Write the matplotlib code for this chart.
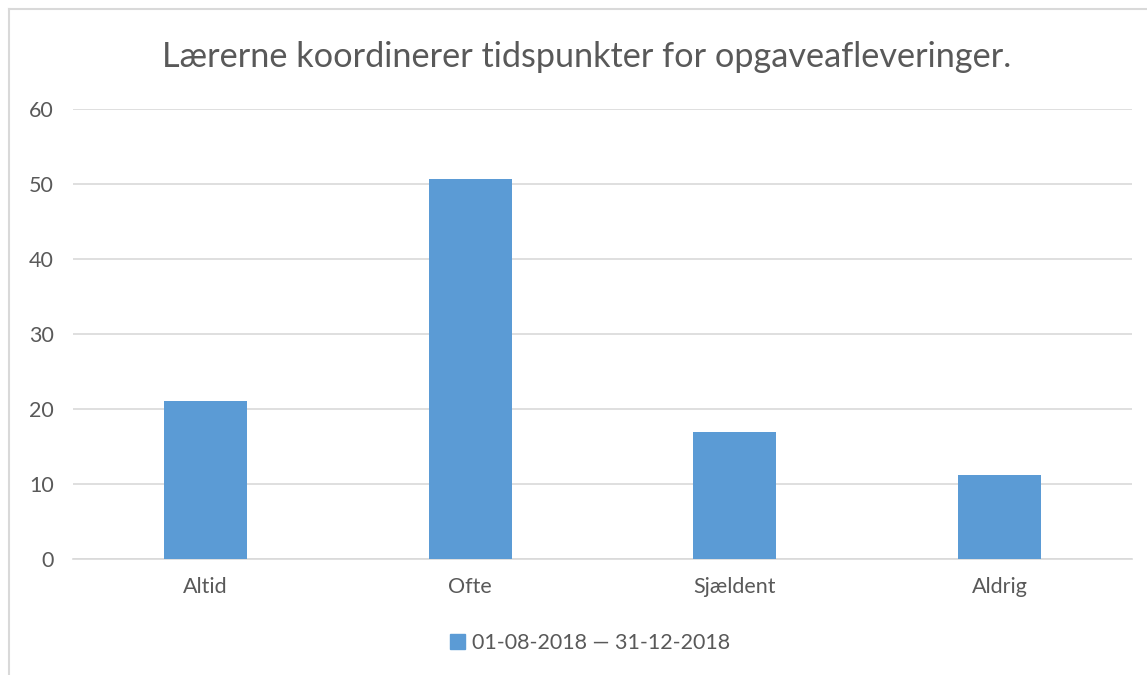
import matplotlib.pyplot as plt
import matplotlib.patches as mpatches
from matplotlib.lines import Line2D
import numpy as np

# 데이터
categories = ['Altid', 'Ofte', 'Sjældent', 'Aldrig']
values = [21.1, 50.7, 16.9, 11.2]
series_label = '01-08-2018 — 31-12-2018'
title = 'Lærerne koordinerer tidspunkter for opgaveafleveringer.'
yticks = [0, 10, 20, 30, 40, 50, 60]

plt.rcParams['font.family'] = ['Lato', 'DejaVu Sans']

W, H = 1147, 675
fig = plt.figure(figsize=(W / 100, H / 100), dpi=100, facecolor='white')

# 축 위치 (픽셀 기준)
left, right, top, bottom = 73, 1132, 109, 559
ax = fig.add_axes([left / W, 1 - bottom / H, (right - left) / W, (bottom - top) / H])

bar_color = '#5B9BD5'
text_color = '#595959'
grid_color = '#D9D9D9'

x = np.arange(len(categories))
ax.bar(x, values, width=0.314, color=bar_color, zorder=3)

ax.set_xlim(-0.5, len(categories) - 0.5)
ax.set_ylim(0, 60)
ax.set_yticks(yticks)
ax.set_yticklabels([str(t) for t in yticks], fontsize=15.5, color=text_color)
ax.set_xticks(x)
ax.set_xticklabels(categories, fontsize=15.5, color=text_color)
ax.tick_params(axis='both', length=0)
ax.tick_params(axis='y', pad=14)
ax.tick_params(axis='x', pad=13)

ax.grid(axis='y', color=grid_color, linewidth=1.2, zorder=0)
ax.set_axisbelow(True)
for side in ['top', 'right', 'left']:
    ax.spines[side].set_visible(False)
ax.spines['bottom'].set_color(grid_color)
ax.spines['bottom'].set_linewidth(1.2)

# 제목
fig.text(587 / W, 1 - 57 / H, title, ha='center', va='center',
         fontsize=24.7, color=text_color)

# 범례
handle = mpatches.Patch(color=bar_color, label=series_label)
fig.legend(handles=[handle], loc='center', bbox_to_anchor=(590 / W, 1 - 643 / H),
           frameon=False, fontsize=15.5, handlelength=0.7, handleheight=0.7,
           handletextpad=0.3, labelcolor=text_color)

# 테두리
border = '#D9D9D9'
fig.add_artist(Line2D([9 / W, 9 / W], [0, 1 - 9 / H], color=border, linewidth=1.5))
fig.add_artist(Line2D([9 / W, 1], [1 - 9 / H, 1 - 9 / H], color=border, linewidth=1.5))

plt.savefig('out.png', dpi=100, facecolor='white')
plt.close()
